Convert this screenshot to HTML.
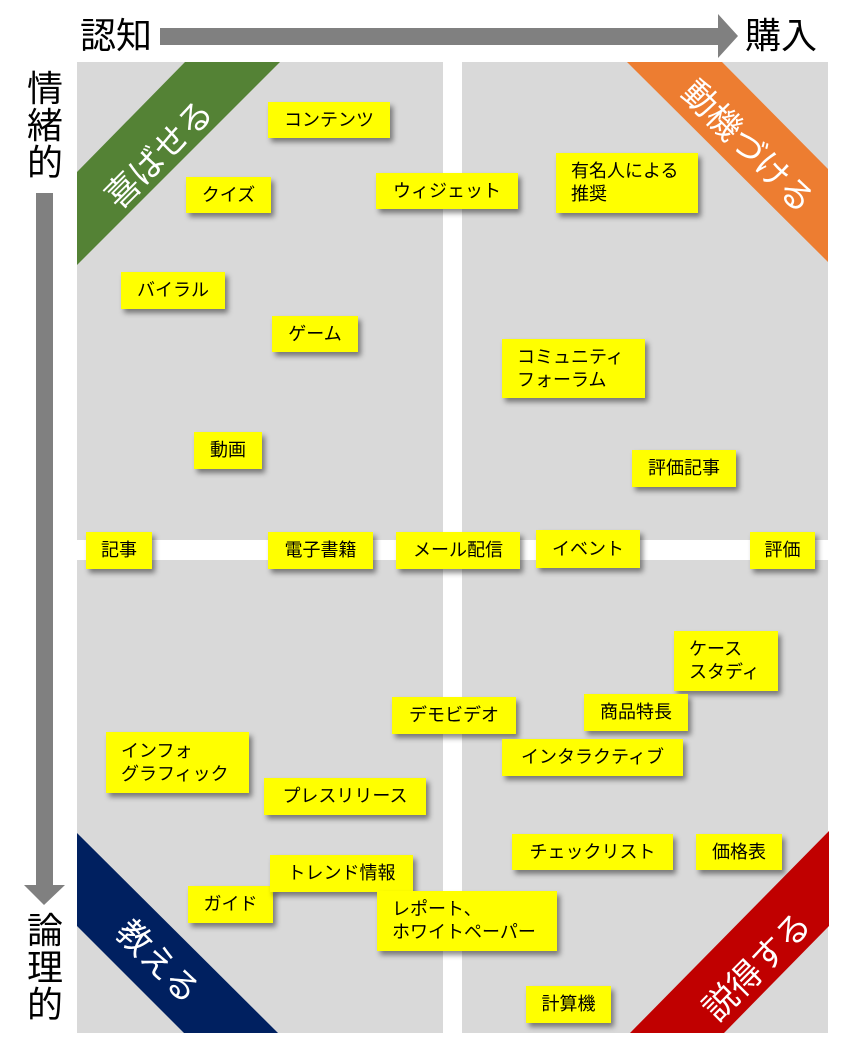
<!DOCTYPE html>
<html><head><meta charset="utf-8"><style>
body{margin:0;width:849px;height:1048px;background:#fff;position:relative;overflow:hidden;font-family:"Liberation Sans","Noto Sans CJK JP",sans-serif}
.q{position:absolute;background:#d9d9d9}
.s{position:absolute;background:#ffff00;box-shadow:3px 4px 5px rgba(0,0,0,.45);font-size:18px;color:#000;box-sizing:border-box;display:flex;align-items:center;justify-content:center;line-height:23px}
.s.l{justify-content:flex-start;padding-left:15px}
.t{position:absolute;font-size:36px;color:#000;line-height:1}
.bt{position:absolute;color:#fff;font-size:34px;white-space:nowrap;transform-origin:center center}
</style></head><body>
<div class="q" style="left:77px;top:62px;width:366px;height:478px"></div>
<div class="q" style="left:462px;top:62px;width:366px;height:478px"></div>
<div class="q" style="left:77px;top:560px;width:366px;height:473px"></div>
<div class="q" style="left:462px;top:560px;width:366px;height:473px"></div>
<svg width="849" height="1048" style="position:absolute;left:0;top:0">
<polygon points="185,62 280,62 77,265 77,172" fill="#548235"/>
<polygon points="627,62 722,62 828,169 828,262" fill="#ed7d31"/>
<polygon points="77,833 77,926 184,1033 278,1033" fill="#002060"/>
<polygon points="829,831 829,926 724,1033 630,1033" fill="#c00000"/>
<polygon points="160,28 718,28 718,14 738,36 718,58 718,45 160,45" fill="#808080"/>
<polygon points="36,193 53,193 53,885 65,885 44,905 24,885 36,885" fill="#808080"/>
</svg>
<div class="bt" style="left:90px;top:130px;width:130px;text-align:center;transform:rotate(-45deg)">喜ばせる</div>
<div class="bt" style="left:665px;top:120px;width:170px;text-align:center;transform:rotate(45deg)">動機づける</div>
<div class="bt" style="left:95px;top:935px;width:130px;text-align:center;transform:rotate(45deg)">教える</div>
<div class="bt" style="left:685px;top:940px;width:140px;text-align:center;transform:rotate(-45deg)">説得する</div>
<div class="t" style="left:80px;top:18px">認知</div>
<div class="t" style="left:745px;top:18px">購入</div>
<div class="t" style="left:27px;top:70px;width:36px;line-height:37px">情<br>緒<br>的</div>
<div class="t" style="left:27px;top:912px;width:36px;line-height:37px">論<br>理<br>的</div>

<div class="s" style="left:268px;top:102px;width:122px;height:36px">コンテンツ</div>
<div class="s" style="left:186px;top:177px;width:85px;height:36px">クイズ</div>
<div class="s" style="left:376px;top:173px;width:142px;height:36px">ウィジェット</div>
<div class="s l" style="left:556px;top:153px;width:142px;height:60px">有名人による<br>推奨</div>
<div class="s" style="left:121px;top:272px;width:104px;height:37px">バイラル</div>
<div class="s" style="left:272px;top:316px;width:86px;height:36px">ゲーム</div>
<div class="s l" style="left:502px;top:339px;width:143px;height:59px">コミュニティ<br>フォーラム</div>
<div class="s" style="left:194px;top:432px;width:68px;height:37px">動画</div>
<div class="s" style="left:632px;top:450px;width:104px;height:37px">評価記事</div>
<div class="s" style="left:86px;top:532px;width:66px;height:37px">記事</div>
<div class="s" style="left:268px;top:532px;width:105px;height:37px">電子書籍</div>
<div class="s" style="left:396px;top:532px;width:124px;height:37px">メール配信</div>
<div class="s" style="left:536px;top:530px;width:104px;height:38px">イベント</div>
<div class="s" style="left:750px;top:532px;width:65px;height:37px">評価</div>
<div class="s l" style="left:674px;top:631px;width:104px;height:60px">ケース<br>スタディ</div>
<div class="s" style="left:584px;top:694px;width:104px;height:37px">商品特長</div>
<div class="s" style="left:392px;top:697px;width:124px;height:37px">デモビデオ</div>
<div class="s" style="left:502px;top:739px;width:181px;height:37px">インタラクティブ</div>
<div class="s l" style="left:106px;top:732px;width:143px;height:61px">インフォ<br>グラフィック</div>
<div class="s" style="left:264px;top:778px;width:162px;height:37px">プレスリリース</div>
<div class="s" style="left:512px;top:834px;width:161px;height:36px">チェックリスト</div>
<div class="s" style="left:696px;top:834px;width:86px;height:36px">価格表</div>
<div class="s" style="left:188px;top:886px;width:85px;height:37px">ガイド</div>
<div class="s" style="left:270px;top:855px;width:143px;height:37px">トレンド情報</div>
<div class="s l" style="left:377px;top:891px;width:180px;height:60px">レポート、<br>ホワイトペーパー</div>
<div class="s" style="left:526px;top:986px;width:85px;height:37px">計算機</div>
</body></html>
